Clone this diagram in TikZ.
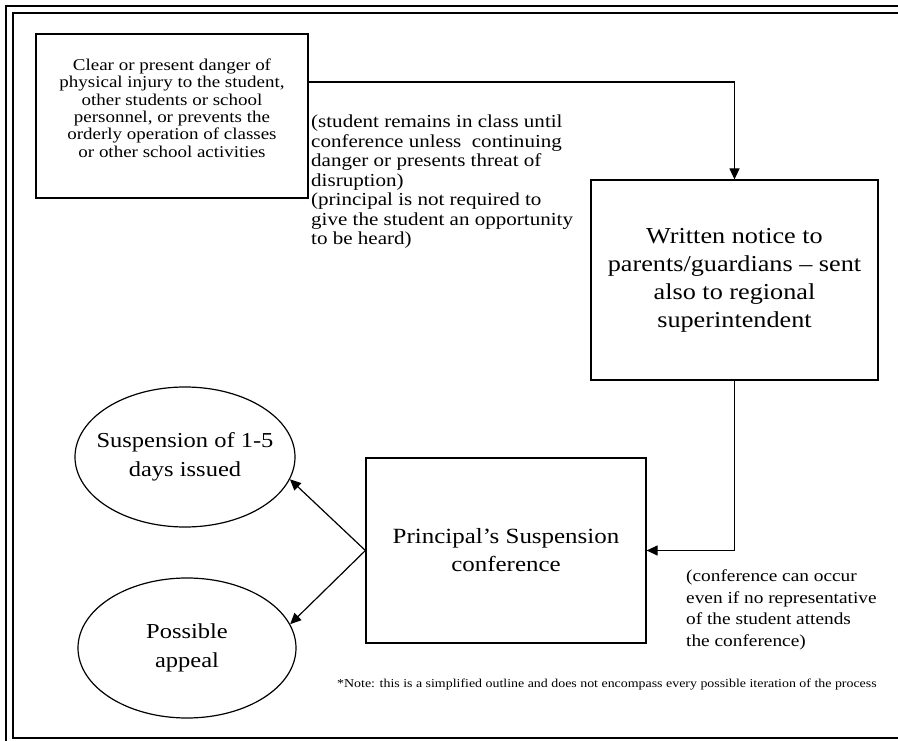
\documentclass[tikz,border=0pt]{standalone}
\usepackage{fontspec}
\setmainfont{Liberation Serif}[FakeStretch=1.15]
\usetikzlibrary{arrows.meta,shapes.geometric}
\begin{document}
\begin{tikzpicture}[x=1pt,y=-1pt,
  frameline/.style={line width=1.6pt},
  boxnode/.style={draw,line width=1.2pt,rectangle,inner sep=0pt},
  ellnode/.style={draw,line width=1.2pt,ellipse,inner xsep=-16pt,inner ysep=0pt,align=center,font=\fontsize{21.3}{28.5}\selectfont},
  txt/.style={inner sep=0pt,align=center},
  note/.style={inner sep=0pt,align=left,anchor=west},
  arr/.style={line width=1.2pt,-{Triangle[length=11pt,width=10pt]}},
  ]
\useasboundingbox (0,0) rectangle (898,741);
% frame
\draw[frameline] (898,6) -- (6,6) -- (6,741);
\draw[frameline] (898,13) -- (13,13) -- (13,738) -- (898,738);
% boxes
\node[boxnode,minimum width=272pt,minimum height=164pt] (danger) at (172,116) {};
\node[txt,font=\fontsize{16.5}{17.4}\selectfont] (dangertext) at (172,108)
  {Clear or present danger of\\physical injury to the student,\\other students or school\\personnel, or prevents the\\orderly operation of classes\\or other school activities};
\node[boxnode,minimum width=287pt,minimum height=200pt,align=center,font=\fontsize{22.8}{28}\selectfont] (notice) at (734.5,280)
  {Written notice to\\parents/guardians -- sent\\also to regional\\superintendent};
\node[boxnode,minimum width=280pt,minimum height=185pt,align=center,font=\fontsize{21.7}{28}\selectfont] (principal) at (506,550.5)
  {Principal's Suspension\\conference};
\node[ellnode,minimum width=220pt,minimum height=140pt] (sus) at (185,457)
  {Suspension of 1-5\\days issued};
\node[ellnode,minimum width=218pt,minimum height=140pt] (appeal) at (187,648)
  {Possible\\appeal};
% notes
\node[note,font=\fontsize{18.3}{19.5}\selectfont] (note1) at (311,182)
  {(student remains in class until\\conference unless\ \ continuing\\danger or presents threat of\\disruption)\\(principal is not required to\\give the student an opportunity\\to be heard)};
\node[note,font=\fontsize{16.8}{21.5}\selectfont] (note2) at (686,610)
  {(conference can occur\\even if no representative\\of the student attends\\the conference)};
\node[note,font=\fontsize{12.1}{13}\selectfont] (foot) at (337,685)
  {*Note: this is a simplified outline and does not encompass every possible iteration of the process};
% connectors
\draw[arr] (danger.east |- 0,82) -| (notice.north);
\draw[arr] (notice.south) |- (principal.east);
\draw[arr] (principal.west) -- (sus.-12);
\draw[arr] (principal.west) -- (appeal.13);
\end{tikzpicture}
\end{document}
